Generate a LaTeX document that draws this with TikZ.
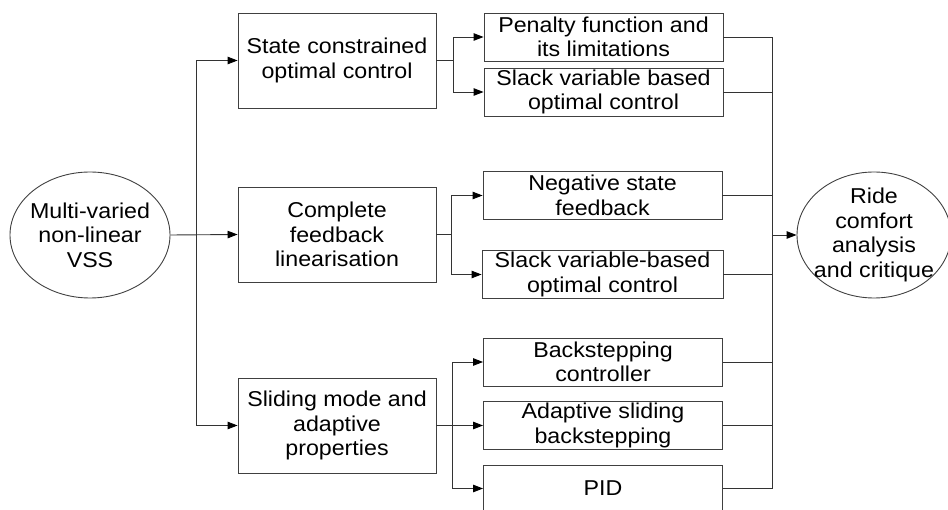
\documentclass[tikz,border=0pt]{standalone}
\usepackage{fontspec}
\setmainfont{Liberation Sans}[FakeStretch=1.08]
\usetikzlibrary{arrows.meta,shapes.geometric}
\begin{document}
\begin{tikzpicture}[x=1pt,y=-1pt,
  every node/.style={font=\fontsize{21.5}{24.5}\selectfont, align=center, inner sep=0pt, text=black},
  box/.style={draw=black!75, line width=0.9pt, rectangle, minimum width=198pt, minimum height=95pt},
  sub/.style={draw=black!75, line width=0.9pt, rectangle, minimum width=239pt, minimum height=48pt},
  oval/.style={draw=black!75, line width=0.9pt, ellipse, minimum width=160pt, minimum height=126pt},
  ln/.style={draw=black!80, line width=0.9pt},
  arr/.style={ln, -{Triangle[length=10pt,width=7.5pt,fill=black,color=black]}}]
\useasboundingbox (0,0) rectangle (948,510);
\clip (0,0) rectangle (948,510);
% main nodes
\node[oval] (vss) at (90,235) {};
\node (vsstext) at (vss.center) {Multi-varied\\non-linear\\VSS};
\node[oval, minimum width=154pt] (ride) at (874,235) {};
\node (ridetext) at (ride.center) {Ride\\comfort\\analysis\\and critique};
\node[box] (b1) at (337,60.5) {State constrained\\optimal control};
\node[box] (b2) at (337,234.5) {Complete\\feedback\\linearisation};
\node[box] (b3) at (337,425.5) {Sliding mode and\\adaptive\\properties};
% sub nodes
\node[sub] (s11) at (603.5,37) {Penalty function and\\its limitations};
\node[sub] (s12) at (603.5,92) {Slack variable based\\optimal control};
\node[sub] (s21) at (602.5,195.5) {Negative state\\feedback};
\node[sub, minimum width=241pt] (s22) at (602.5,274.5) {Slack variable-based\\optimal control};
\node[sub] (s31) at (603,362) {Backstepping\\controller};
\node[sub] (s32) at (603,425.5) {Adaptive sliding\\backstepping};
\node[sub, minimum height=47pt] (s33) at (603,488.5) {PID};
% bus coordinates
\coordinate (bl) at (196,235);
\coordinate (j1) at (453,60.5);
\coordinate (j2) at (451,234.5);
\coordinate (j3) at (452,425.5);
\coordinate (br) at (772,235);
% left connectors
\draw[arr] (vss.east) -- (b2.west);
\draw[arr] (bl) |- (b1.west);
\draw[arr] (bl) |- (b3.west);
% group 1
\draw[ln] (b1.east) -- (j1);
\draw[arr] (j1) |- (s11.west);
\draw[arr] (j1) |- (s12.west);
% group 2
\draw[ln] (b2.east) -- (j2);
\draw[arr] (j2) |- (s21.west);
\draw[arr] (j2) |- (s22.west);
% group 3
\draw[arr] (b3.east) -- (s32.west);
\draw[arr] (j3) |- (s31.west);
\draw[arr] (j3) |- (s33.west);
% right bus
\draw[ln] (s11.east) -| (br);
\draw[ln] (s33.east) -| (br);
\draw[ln] (s12.east) -- (s12.east -| br);
\draw[ln] (s21.east) -- (s21.east -| br);
\draw[ln] (s22.east) -- (s22.east -| br);
\draw[ln] (s31.east) -- (s31.east -| br);
\draw[ln] (s32.east) -- (s32.east -| br);
\draw[arr] (br) -- (ride.west);
\end{tikzpicture}
\end{document}
